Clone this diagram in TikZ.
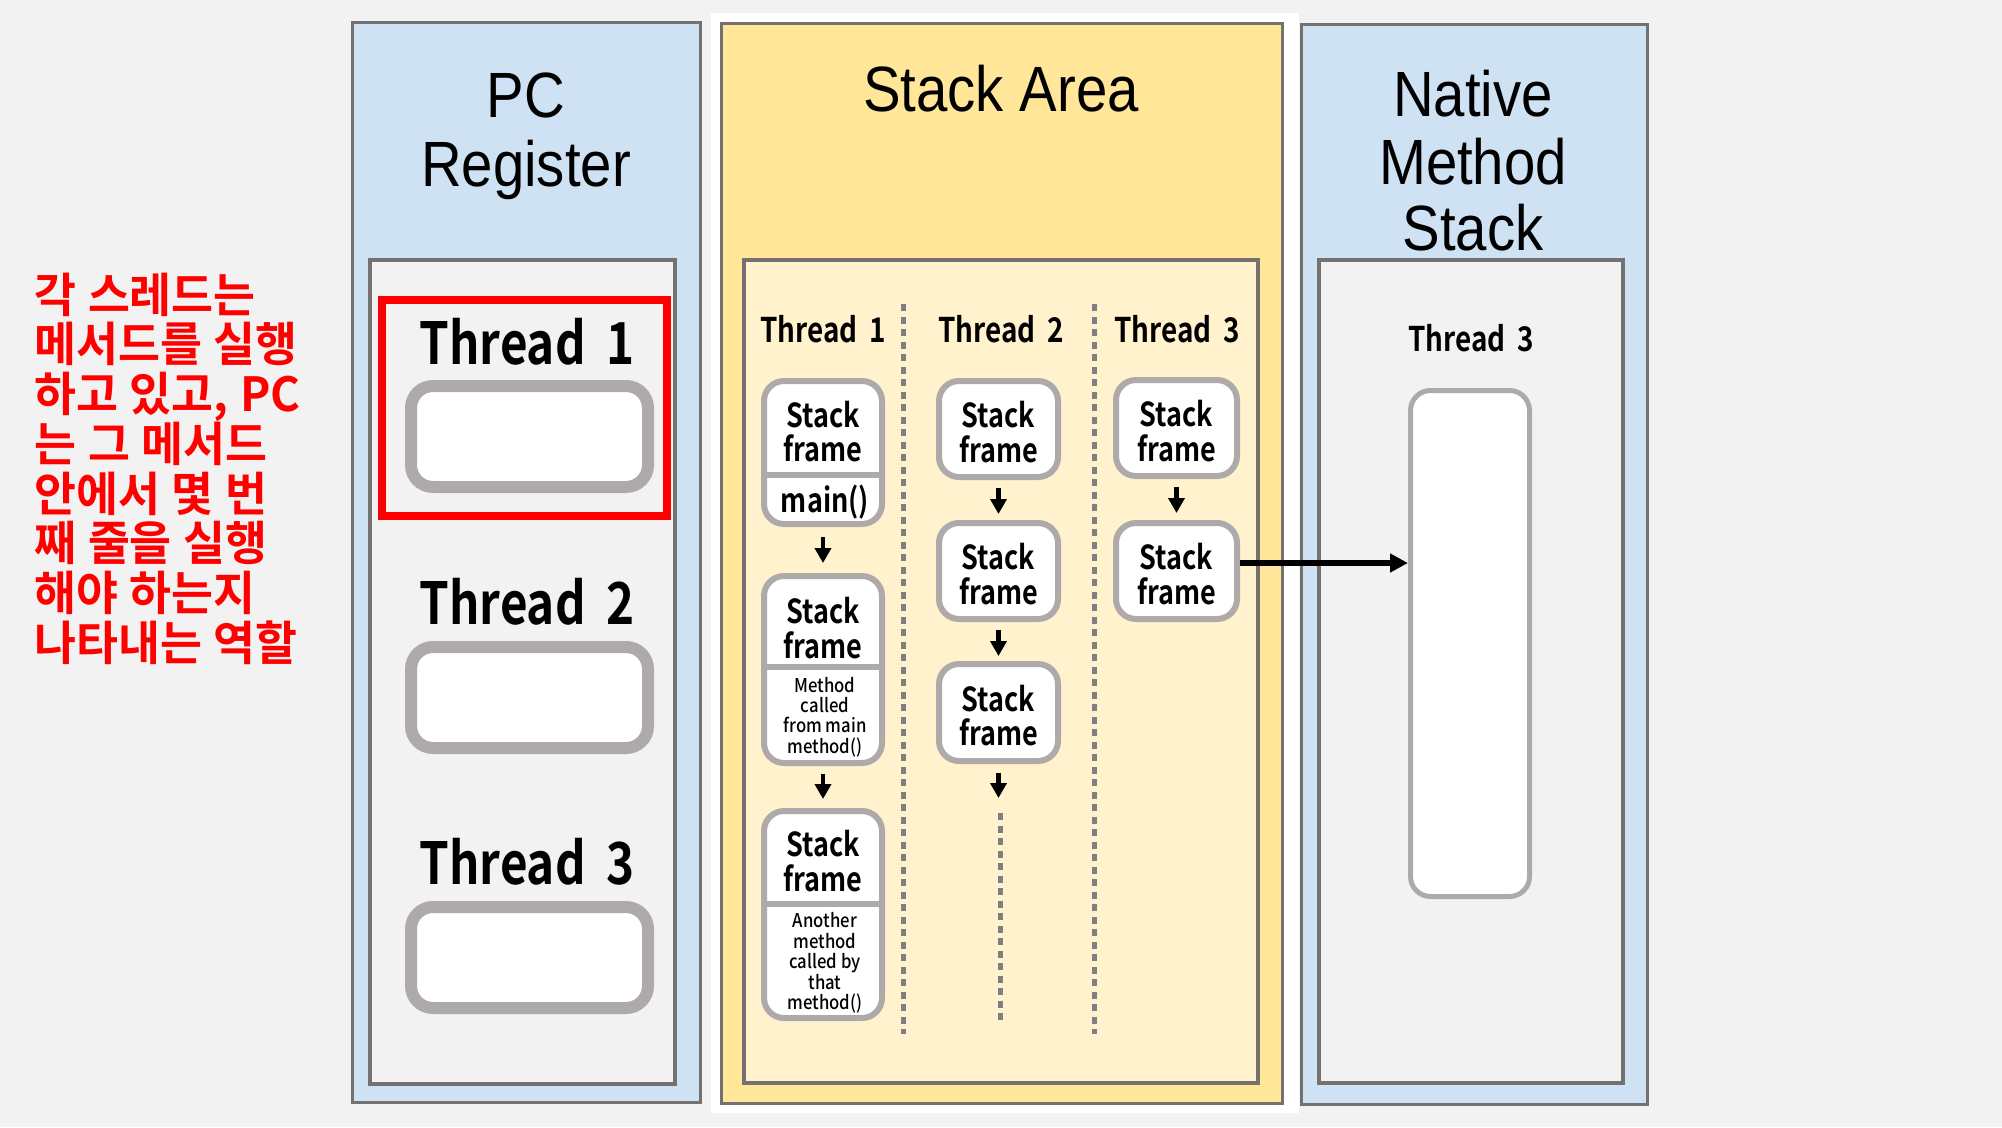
\documentclass[tikz,border=0pt]{standalone}
\usepackage{fontspec}
\usetikzlibrary{arrows.meta,calc}
\setmainfont{Liberation Sans}
\newfontfamily\titlef[FakeStretch=0.88]{Liberation Sans}
\newfontfamily\krnote[FakeStretch=0.97,WordSpace=1.15]{Noto Sans CJK KR Bold}
\newfontfamily\lblf[FakeStretch=0.82,WordSpace=1.9]{Noto Sans CJK KR Bold}
\newfontfamily\smallf[FakeStretch=0.88]{Noto Sans CJK KR Medium}
\definecolor{bgc}{HTML}{F2F2F2}
\definecolor{bluefill}{HTML}{CFE2F3}
\definecolor{panelline}{HTML}{767171}
\definecolor{yelfill}{HTML}{FFE699}
\definecolor{yelinner}{HTML}{FFF2CC}
\definecolor{boxline}{HTML}{AEAAAA}
\definecolor{dotc}{HTML}{7F7F7F}
\definecolor{redc}{HTML}{FF0000}
\begin{document}
\begin{tikzpicture}[x=1pt,y=-1pt,
  panel/.style={draw=panelline, line width=3pt, inner sep=0pt},
  innerpanel/.style={draw=panelline, line width=4pt, inner sep=0pt},
  title/.style={font=\titlef\fontsize{64}{68}\selectfont, anchor=base, inner sep=0pt},
  bigthread/.style={font=\lblf\fontsize{58}{62}\selectfont, anchor=base, inner sep=0pt},
  smallthread/.style={font=\lblf\fontsize{34}{36}\selectfont, anchor=base, inner sep=0pt},
  pcbox/.style={draw=boxline, fill=white, line width=12pt, rounded corners=22pt, minimum width=237pt, minimum height=101pt, inner sep=0pt},
  sf/.style={draw=boxline, fill=white, line width=6pt, rounded corners=20pt, inner sep=0pt},
  sfline/.style={draw=boxline, line width=6pt},
  sftext/.style={font=\lblf\fontsize{33}{34.5}\selectfont, align=center, inner sep=0pt},
  smalltext/.style={font=\smallf\fontsize{19}{20.4}\selectfont, align=center, inner sep=0pt},
  darr/.style={line width=4.5pt, -{Triangle[width=16pt,length=15pt]}},
  sep/.style={draw=dotc, line width=5pt, dash pattern=on 7pt off 5.5pt},
  krtext/.style={font=\krnote\fontsize{47}{50}\selectfont, text=redc, anchor=base west, inner sep=0pt}
]
\fill[bgc] (0,0) rectangle (2002,1127);
\useasboundingbox (0,0) rectangle (2002,1127);
\fill[white] (711,13) rectangle (1299,1113);

% ---------- PC Register ----------
\node[panel, fill=bluefill, minimum width=348pt, minimum height=1080pt] (pc) at (526,562) {};
\node[title] (pct1) at (526,117) {PC};
\node[title] (pct2) at (526,186) {Register};
\node[innerpanel, fill=bgc, minimum width=305pt, minimum height=824pt] (pcin) at (522.5,672) {};
\node[draw=redc, line width=8pt, minimum width=285pt, minimum height=216pt, inner sep=0pt] (redbox) at (524.5,408) {};
\node[bigthread] (pcl1) at (527,364) {Thread 1};
\node[pcbox] (pcb1) at (529.5,436.5) {};
\node[bigthread] (pcl2) at (527,624) {Thread 2};
\node[pcbox] (pcb2) at (529.5,697.5) {};
\node[bigthread] (pcl3) at (527,884) {Thread 3};
\node[pcbox] (pcb3) at (529.5,957.5) {};

% ---------- Stack Area ----------
\node[panel, fill=yelfill, minimum width=561pt, minimum height=1080pt] (st) at (1001.5,563) {};
\node[title] (stt) at (1001,111) {Stack Area};
\node[innerpanel, fill=yelinner, minimum width=514pt, minimum height=823pt] (stin) at (1001,671.5) {};
\node[smallthread] (st1) at (823,342) {Thread 1};
\node[smallthread] (st2) at (1001,342) {Thread 2};
\node[smallthread] (st3) at (1177,342) {Thread 3};

\coordinate (s1top) at (903,304);
\coordinate (s1bot) at (903,1034);
\coordinate (s2top) at (1094,304);
\coordinate (s2bot) at (1094,1034);
\draw[sep] (s1top) -- (s1bot);
\draw[sep] (s2top) -- (s2bot);

% column 1
\node[sf, minimum width=118pt, minimum height=143pt] (a1) at (823,452.5) {};
\node[sf, minimum width=118pt, minimum height=187pt] (a2) at (823,669.5) {};
\node[sf, minimum width=118pt, minimum height=207pt] (a3) at (823,914.5) {};
\coordinate (d1) at (0,475);
\coordinate (d2) at (0,667);
\coordinate (d3) at (0,904);
\draw[sfline] (a1.west |- d1) -- (a1.east |- d1);
\draw[sfline] (a2.west |- d2) -- (a2.east |- d2);
\draw[sfline] (a3.west |- d3) -- (a3.east |- d3);
\node[sftext] (a1t) at (823,431.5) {Stack\\frame};
\node[sftext] (a1m) at (825,502) {main()};
\node[sftext] (a2t) at (823,628) {Stack\\frame};
\node[smalltext] (a2m) at (825,717) {Method\\called\\from main\\method()};
\node[sftext] (a3t) at (823,861) {Stack\\frame};
\node[smalltext] (a3m) at (825,963) {Another\\method\\called by\\that\\method()};
\draw[darr, shorten <=10pt, shorten >=10pt] (a1.south) -- (a2.north);
\draw[darr, shorten <=8pt, shorten >=9pt] (a2.south) -- (a3.north);

% column 2
\node[sf, minimum width=119pt, minimum height=96pt] (b1) at (998.5,429) {};
\node[sf, minimum width=119pt, minimum height=96pt] (b2) at (998.5,571) {};
\node[sf, minimum width=119pt, minimum height=97pt] (b3) at (998.5,712.5) {};
\node[sftext] (b1t) at (998.5,432) {Stack\\frame};
\node[sftext] (b2t) at (998.5,574) {Stack\\frame};
\node[sftext] (b3t) at (998.5,715.5) {Stack\\frame};
\draw[darr, shorten <=8pt, shorten >=6pt] (b1.south) -- (b2.north);
\draw[darr, shorten <=8pt, shorten >=5pt] (b2.south) -- (b3.north);
\coordinate (b4) at (998.5,798);
\draw[darr, shorten <=9pt] (b3.south) -- (b4);
\coordinate (b5top) at (1000,813);
\coordinate (b5bot) at (1000,1021);
\draw[sep] (b5top) -- (b5bot);

% column 3
\node[sf, minimum width=121pt, minimum height=96pt] (c1) at (1176.5,428) {};
\node[sf, minimum width=121pt, minimum height=96pt] (c2) at (1176.5,571) {};
\node[sftext] (c1t) at (1176.5,431) {Stack\\frame};
\node[sftext] (c2t) at (1176.5,574) {Stack\\frame};
\draw[darr, shorten <=8pt, shorten >=7pt] (c1.south) -- (c2.north);

% ---------- Native Method Stack ----------
\node[panel, fill=bluefill, minimum width=346pt, minimum height=1080pt] (nm) at (1474,564) {};
\node[title] (nmt1) at (1473,116) {Native};
\node[title] (nmt2) at (1473,184) {Method};
\node[title] (nmt3) at (1473,250) {Stack};
\node[innerpanel, fill=bgc, minimum width=304pt, minimum height=823pt] (nmin) at (1471,671.5) {};
\node[smallthread] (nml) at (1471,351) {Thread 3};
\node[draw=boxline, fill=white, line width=5pt, rounded corners=20pt, minimum width=119pt, minimum height=506pt, inner sep=0pt] (nbox) at (1470,643.5) {};

\coordinate (arry) at (0,563);
\draw[line width=6pt, -{Triangle[width=18pt,length=18pt]}] (c2.east |- arry) -- (nbox.west |- arry);

% ---------- Korean note ----------
\foreach \t/\y [count=\i] in {각 스레드는/312, 메서드를 실행/361.5, {하고 있고, PC}/411, 는 그 메서드/461, 안에서 몇 번/511, 째 줄을 실행/560.5, 해야 하는지/610.5, 나타내는 역할/660}
  \node[krtext] (kr\i) at (34,\y) {\t};
\end{tikzpicture}
\end{document}
